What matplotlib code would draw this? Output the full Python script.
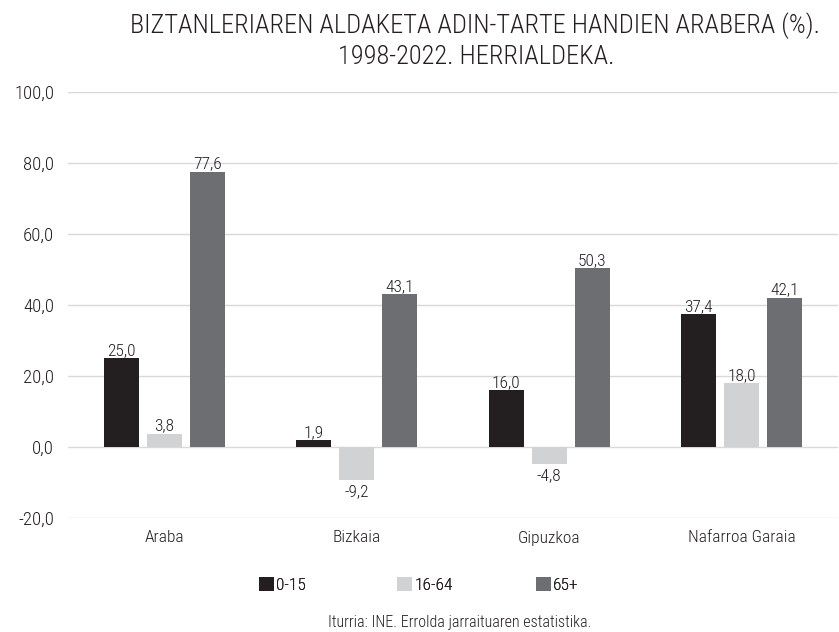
import matplotlib.pyplot as plt
import numpy as np
from matplotlib import font_manager

# narrow font, closest thing to the condensed face of the original
names = {f.name for f in font_manager.fontManager.ttflist}
FONT = 'DejaVu Sans'
for cand in ['Roboto Condensed', 'Liberation Sans Narrow', 'Open Sans Condensed']:
    if cand in names:
        FONT = cand
        break
plt.rcParams['font.family'] = [FONT, 'DejaVu Sans']
plt.rcParams['font.stretch'] = 'condensed'
plt.rcParams['font.weight'] = 'light'

regions = ['Araba', 'Bizkaia', 'Gipuzkoa', 'Nafarroa Garaia']
age_groups = ['0-15', '16-64', '65+']
v_0_15 = [25.0, 1.9, 16.0, 37.4]
v_16_64 = [3.8, -9.2, -4.8, 18.0]
v_65 = [77.6, 43.1, 50.3, 42.1]
colors = ['#231f20', '#d1d2d4', '#6d6e71']
TXT = '#231f20'

fig = plt.figure(figsize=(8.39, 6.32), dpi=100)
ax = fig.add_axes([68 / 839, 1 - 518 / 632, 770 / 839, 426 / 632])

x = np.arange(len(regions))
w = 0.182
step = 0.223
containers = []
for i, (vals, c) in enumerate(zip([v_0_15, v_16_64, v_65], colors)):
    b = ax.bar(x + (i - 1) * step, vals, w, color=c, label=age_groups[i], zorder=3)
    containers.append(b)
    for xi, v in zip(x + (i - 1) * step, vals):
        lbl = f'{v:.1f}'.replace('.', ',')
        if v >= 0:
            ax.annotate(lbl, (xi, v), xytext=(0, 0), textcoords='offset points',
                        ha='center', va='bottom', fontsize=12.5, color=TXT)
        else:
            ax.annotate(lbl, (xi, v), xytext=(0, -3), textcoords='offset points',
                        ha='center', va='top', fontsize=12.5, color=TXT)

ax.set_xlim(-0.5, 3.5)
ax.set_ylim(-20, 100)
ticks = np.arange(-20, 101, 20)
ax.set_yticks(ticks)
ax.set_yticklabels([f'{t:.1f}'.replace('.', ',') for t in ticks], fontsize=13.5, color=TXT)
ax.set_xticks(x)
ax.set_xticklabels(regions, fontsize=12.5, color=TXT)
ax.tick_params(length=0, axis='both')
ax.tick_params(axis='y', pad=10)
ax.tick_params(axis='x', pad=9)
ax.grid(axis='y', color='#d9d9d9', linewidth=1, zorder=0)
for s in ax.spines.values():
    s.set_visible(False)

fig.text(475 / 839, 1 - 26 / 632, 'BIZTANLERIAREN ALDAKETA ADIN-TARTE HANDIEN ARABERA (%).',
         ha='center', va='center', fontsize=19, color=TXT)
fig.text(476 / 839, 1 - 57 / 632, '1998-2022. HERRIALDEKA.',
         ha='center', va='center', fontsize=19, color=TXT)

# one legend per entry so the entries sit at fixed, even steps
for b, lab, x0 in zip(containers, age_groups, [259, 397, 536]):
    lg = fig.legend([b], [lab], loc='center left', bbox_to_anchor=(x0 / 839, 1 - 585 / 632),
                    frameon=False, fontsize=12.5, handlelength=0.85, handleheight=0.85,
                    handletextpad=0.15, borderpad=0, borderaxespad=0)
    for t in lg.get_texts():
        t.set_color(TXT)
    fig.add_artist(lg)

fig.text(460 / 839, 1 - 622 / 632, 'Iturria: INE. Errolda jarraituaren estatistika.',
         ha='center', va='center', fontsize=11.5, color=TXT)

fig.savefig('out.png', dpi=100)
